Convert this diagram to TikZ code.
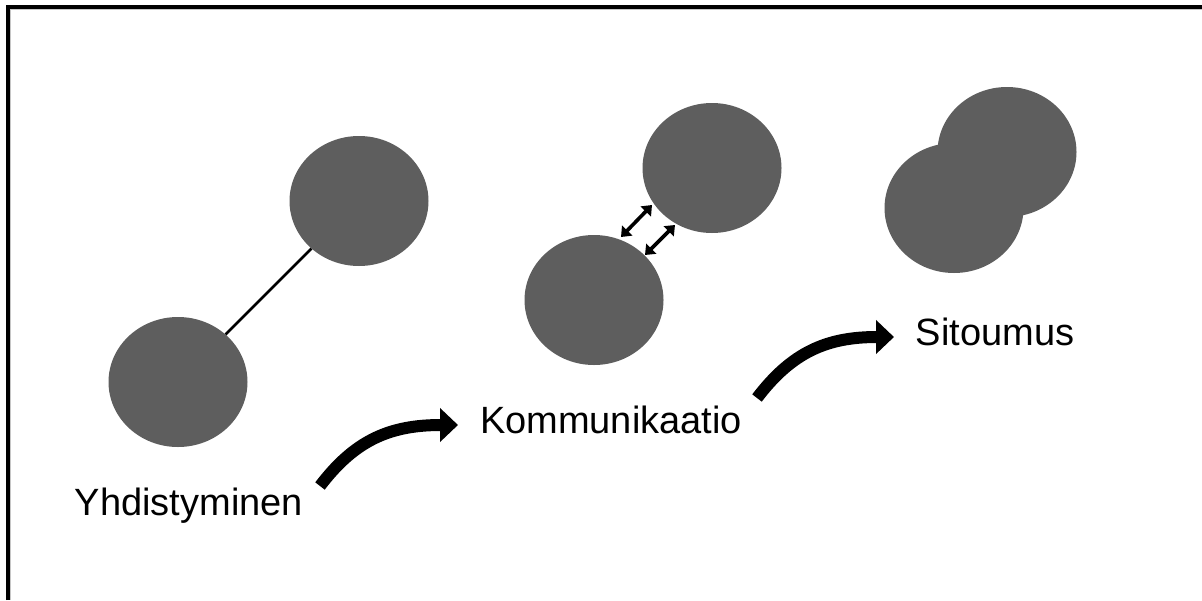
\documentclass[tikz,border=0pt]{standalone}
\usepackage{fontspec}
\setmainfont{Liberation Sans}
\usetikzlibrary{arrows.meta,shapes.geometric}
\definecolor{blob}{RGB}{94,94,94}
\begin{document}
\begin{tikzpicture}[x=1pt,y=-1pt,
  blobnode/.style={ellipse,fill=blob,minimum width=139pt,minimum height=130pt,inner sep=0pt},
  label/.style={anchor=base,font=\fontsize{38}{41}\selectfont,inner sep=0pt},
  bigarrow/.style={line width=12pt,-{Triangle[length=18pt,width=33pt]}},
  smallarrow/.style={line width=3.6pt,{Triangle[length=9pt,width=14pt]}-{Triangle[length=9pt,width=14pt]}},
  frame/.style={line width=4pt}]
\useasboundingbox (0,0) rectangle (1202,600);
% frame
\coordinate (fb) at (8,600);
\coordinate (ftl) at (8,7);
\coordinate (fr) at (1202,7);
\draw[frame] (fb) -- (ftl) -- (fr);
\draw[gray!45,line width=0.8pt] (10.8,600) -- (10.8,9.8) -- (1202,9.8);
% Yhdistyminen
\node[blobnode] (a1) at (178,382) {};
\node[blobnode] (a2) at (359,201) {};
\draw[line width=2.6pt] (a1) -- (a2);
% Kommunikaatio
\node[blobnode] (b1) at (712,168) {};
\node[blobnode] (b2) at (594,300) {};
\coordinate (s1a) at (621,237);
\coordinate (s1b) at (652,205);
\coordinate (s2a) at (645,255);
\coordinate (s2b) at (675,225);
\draw[smallarrow] (s1a) -- (s1b);
\draw[smallarrow] (s2a) -- (s2b);
% Sitoumus
\node[blobnode] (c1) at (1007,152) {};
\node[blobnode] (c2) at (954,208) {};
% labels
\node[label] (t1) at (189,515) {Yhdistyminen};
\node[label] (t2) at (611,433) {Kommunikaatio};
\node[label] (t3) at (995,345) {Sitoumus};
% curved arrows
\coordinate (p1s) at (320,486);
\coordinate (p1e) at (458,425);
\coordinate (p2s) at (757,398);
\coordinate (p2e) at (894,337);
\draw[bigarrow] (p1s) .. controls (355,440) and (390,425) .. (p1e);
\draw[bigarrow] (p2s) .. controls (792,352) and (827,337) .. (p2e);
\end{tikzpicture}
\end{document}
